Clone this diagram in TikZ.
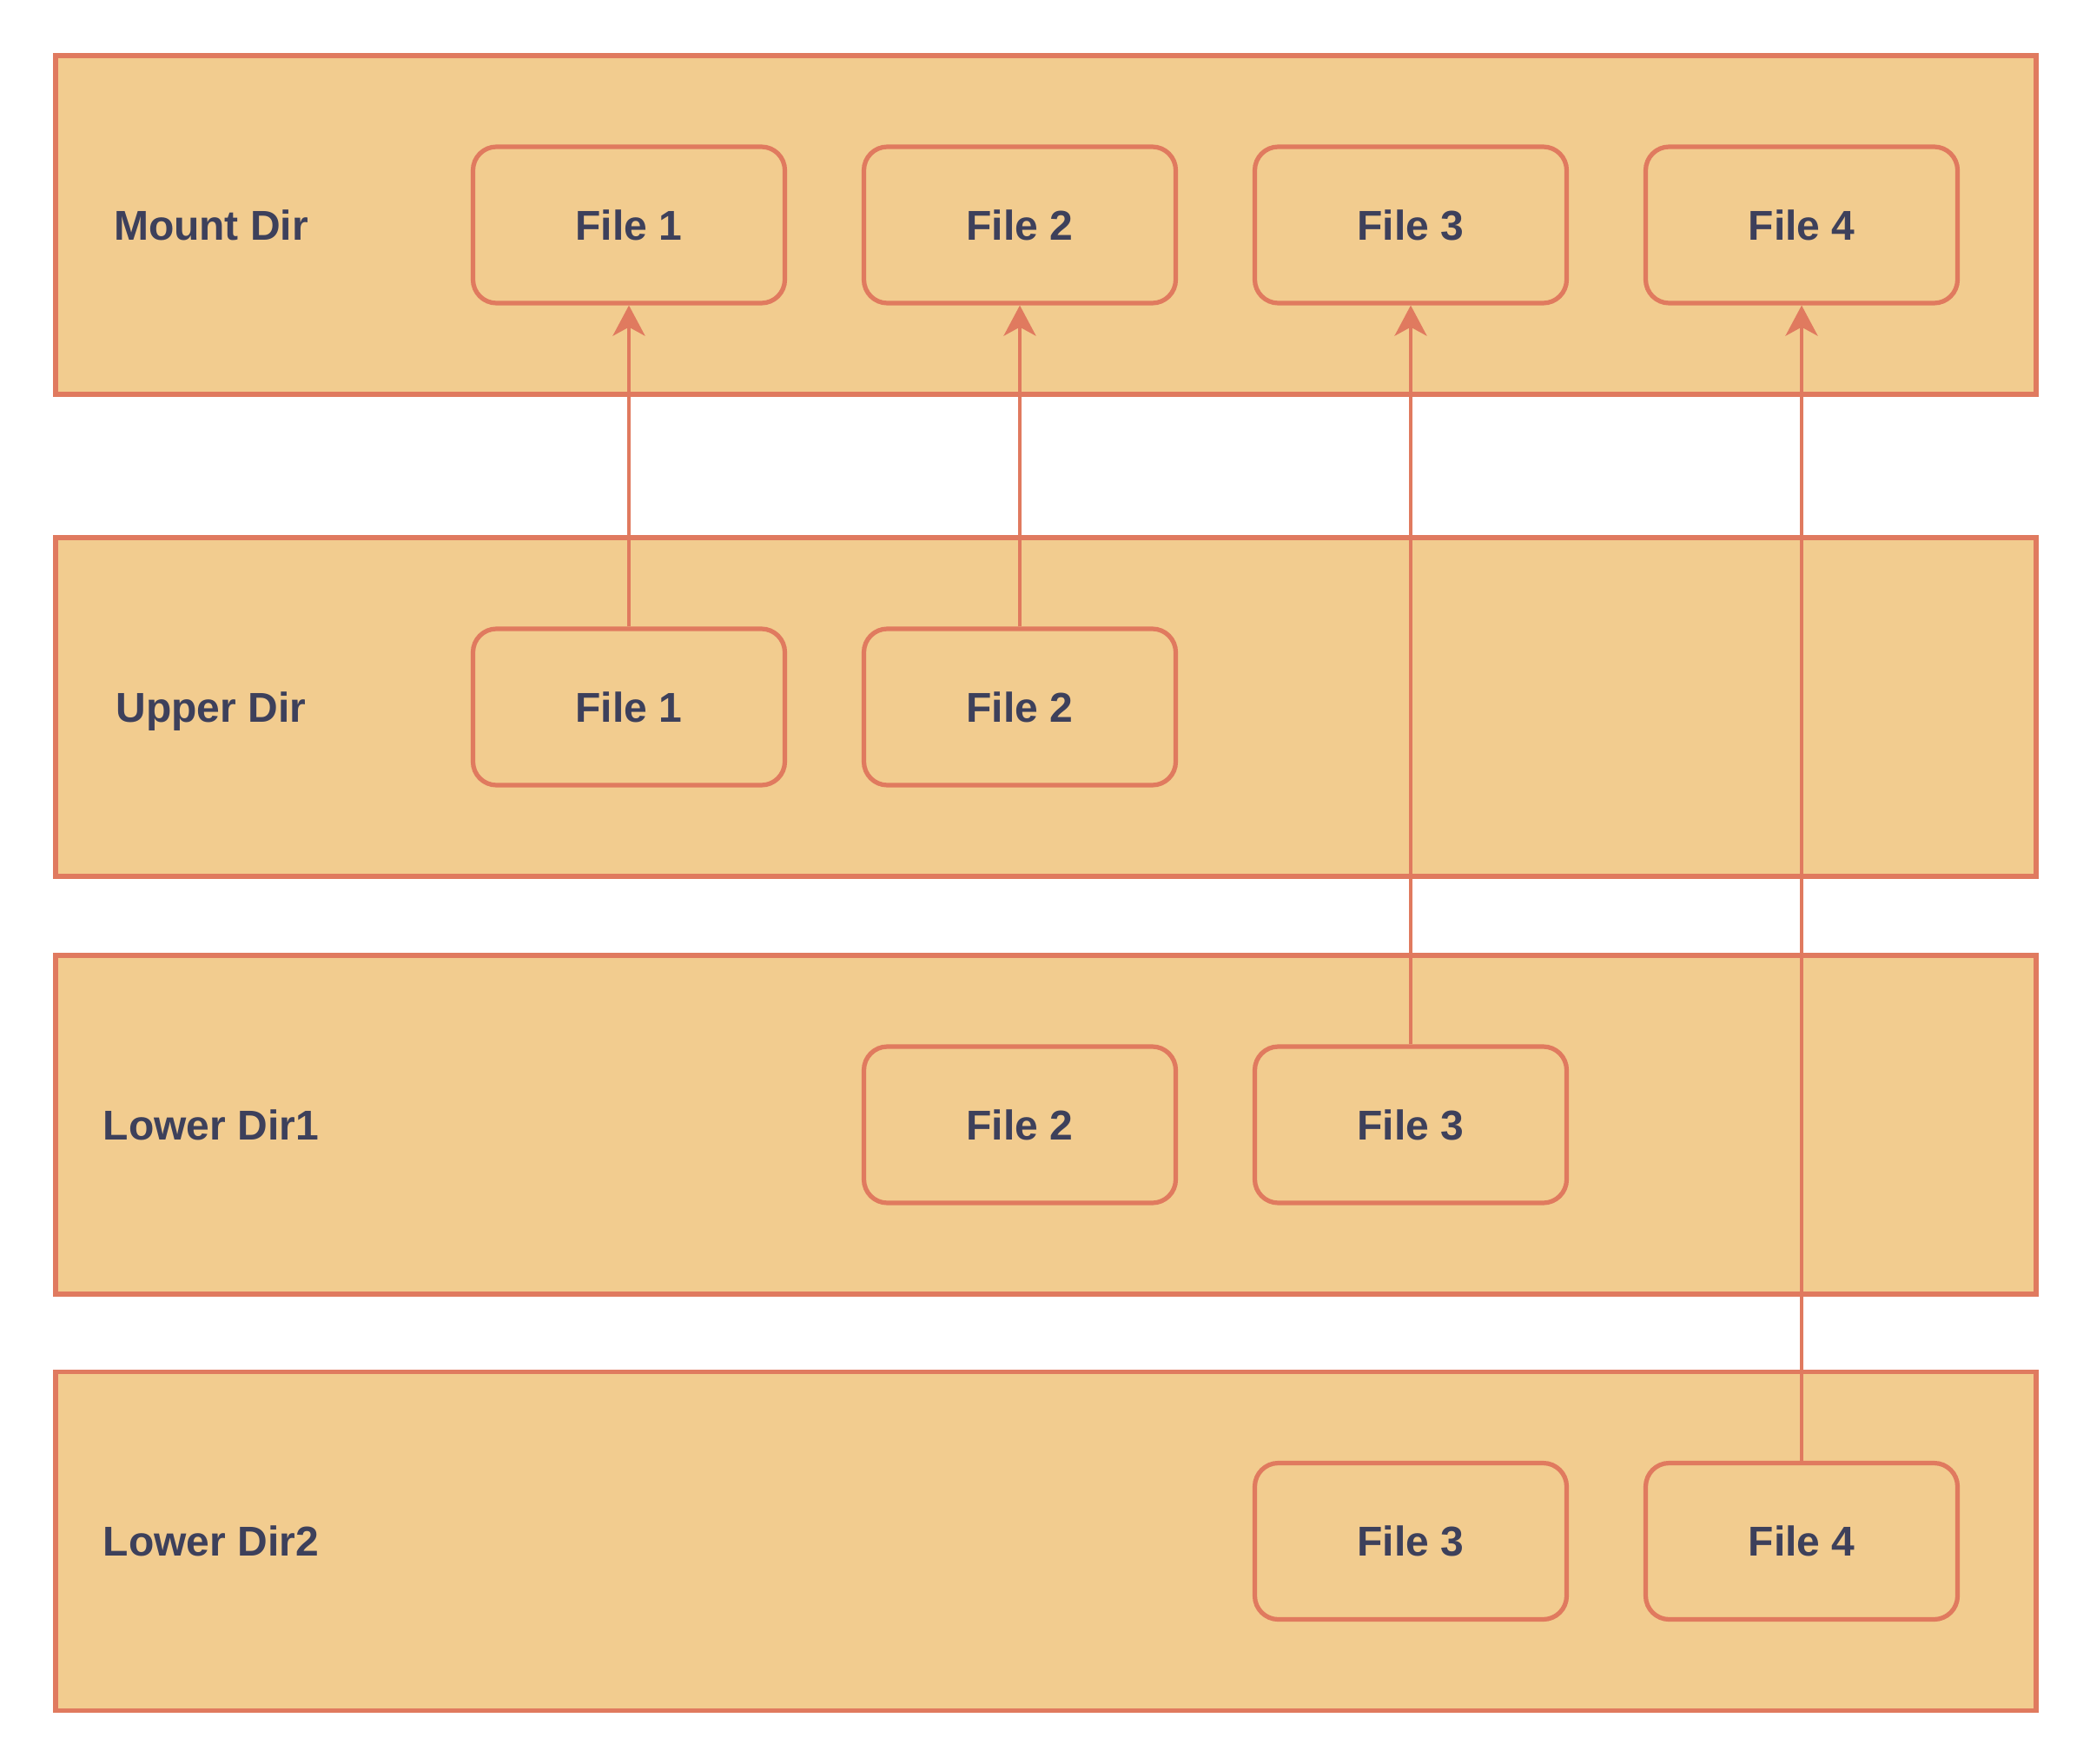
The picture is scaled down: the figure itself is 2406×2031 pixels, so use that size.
\documentclass[tikz,border=0pt]{standalone}
\usepackage{fontspec}
\setmainfont{Liberation Sans}
\usetikzlibrary{arrows.meta}
\definecolor{sand}{RGB}{242,204,143}
\definecolor{edge}{RGB}{224,122,95}
\definecolor{ink}{RGB}{61,64,91}
\begin{document}
\begin{tikzpicture}[x=0.25pt,y=-0.25pt,
	layer/.style={draw=edge,fill=sand,line width=1.4pt,minimum width=570pt,minimum height=97.5pt,inner sep=0pt},
	file/.style={draw=edge,fill=sand,line width=1.3pt,rounded corners=6.75pt,minimum width=89.75pt,minimum height=45pt,text=ink,font=\bfseries\fontsize{12}{14}\selectfont},
	lbl/.style={text=ink,text depth=0pt,font=\bfseries\fontsize{12}{14}\selectfont},
	link/.style={draw=edge,line width=1.1pt,-{Stealth[length=8.75pt,width=9.25pt,inset=2.5pt]}}]
	\useasboundingbox (0,0) rectangle (2406,2031);

	\def \cx {1204}
	\def \ymount {259}
	\def \yupper {814}
	\def \ylowa {1295}
	\def \ylowb {1774.5}

	% layers
	\node[layer] (mount) at (\cx,\ymount) {};
	\node[layer] (upper) at (\cx,\yupper) {};
	\node[layer] (lowa) at (\cx,\ylowa) {};
	\node[layer] (lowb) at (\cx,\ylowb) {};

	\node[lbl] (mountlbl) at (243,\ymount) {Mount Dir};
	\node[lbl] (upperlbl) at (243,\yupper) {Upper Dir};
	\node[lbl] (lowalbl) at (243,\ylowa) {Lower Dir1};
	\node[lbl] (lowblbl) at (243,\ylowb) {Lower Dir2};

	% files
	\foreach \i in {1,...,4}
		\node[file] (m\i) at ({274+450*\i},\ymount) {File \i};

	\node[file] (u1) at (724,\yupper) {File 1};
	\node[file] (u2) at (1174,\yupper) {File 2};

	\node[file] (a2) at (1174,\ylowa) {File 2};
	\node[file] (a3) at (1624,\ylowa) {File 3};

	\node[file] (b3) at (1624,\ylowb) {File 3};
	\node[file] (b4) at (2074,\ylowb) {File 4};

	% links
	\draw[link] (u1.north) -- (m1.south);
	\draw[link] (u2.north) -- (m2.south);
	\draw[link] (a3.north) -- (m3.south);
	\draw[link] (b4.north) -- (m4.south);

\end{tikzpicture}
\end{document}
